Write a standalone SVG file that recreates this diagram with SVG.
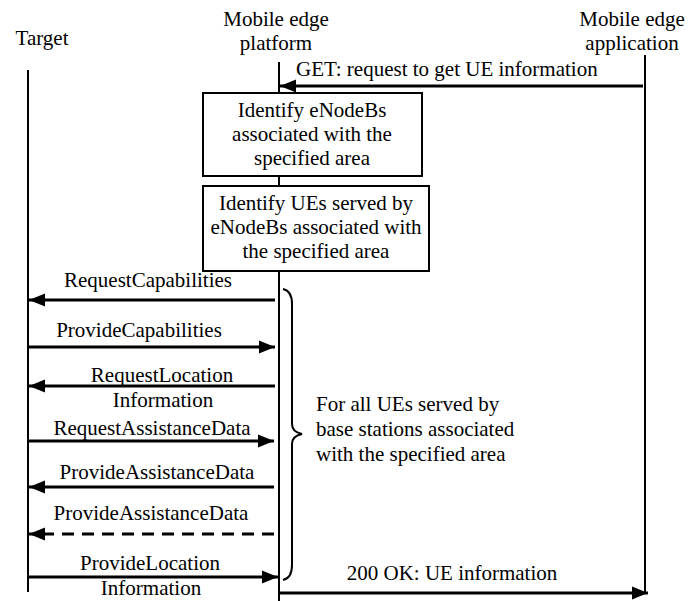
<svg xmlns="http://www.w3.org/2000/svg" width="699" height="601" viewBox="0 0 699 601">
  <defs>
    <marker id="head" markerUnits="userSpaceOnUse" markerWidth="17" markerHeight="14" refX="16" refY="7" orient="auto">
      <path d="M0,0.5 L16,7 L0,13.5 z" fill="#000"/>
    </marker>
  </defs>
  <rect width="699" height="601" fill="#fff"/>

  <!-- participants and lifelines -->
  <g id="target">
    <text x="42" y="45" text-anchor="middle" font-family="Liberation Serif" font-size="21">Target</text>
    <line x1="28" y1="70" x2="28" y2="592" stroke="#000" stroke-width="2"/>
  </g>
  <g id="platform">
    <text x="276" y="26" text-anchor="middle" font-family="Liberation Serif" font-size="21">Mobile edge</text>
    <text x="276" y="50" text-anchor="middle" font-family="Liberation Serif" font-size="21">platform</text>
    <line x1="279" y1="62" x2="279" y2="601" stroke="#000" stroke-width="2"/>
  </g>
  <g id="application">
    <text x="632" y="26" text-anchor="middle" font-family="Liberation Serif" font-size="21">Mobile edge</text>
    <text x="632" y="50" text-anchor="middle" font-family="Liberation Serif" font-size="21">application</text>
    <line x1="645" y1="55" x2="645" y2="593" stroke="#000" stroke-width="2"/>
  </g>

  <!-- processing steps on the platform -->
  <g id="identify-enodebs">
    <rect x="203" y="93" width="219" height="83" fill="#fff" stroke="#000" stroke-width="2"/>
    <text x="312" y="117" text-anchor="middle" font-family="Liberation Serif" font-size="21">Identify eNodeBs</text>
    <text x="312" y="141" text-anchor="middle" font-family="Liberation Serif" font-size="21">associated with the</text>
    <text x="312" y="165" text-anchor="middle" font-family="Liberation Serif" font-size="21">specified area</text>
  </g>
  <g id="identify-ues">
    <rect x="203" y="186" width="226" height="85" fill="#fff" stroke="#000" stroke-width="2"/>
    <text x="316" y="210" text-anchor="middle" font-family="Liberation Serif" font-size="21">Identify UEs served by</text>
    <text x="316" y="234" text-anchor="middle" font-family="Liberation Serif" font-size="21">eNodeBs associated with</text>
    <text x="316" y="258" text-anchor="middle" font-family="Liberation Serif" font-size="21">the specified area</text>
  </g>

  <!-- per-UE loop annotation -->
  <g id="loop-note">
    <path d="M283,289 Q292,291 292,304 L292,424 Q292,432 302,434 Q292,436 292,444 L292,565 Q292,578 283,580" fill="none" stroke="#000" stroke-width="2"/>
    <text x="316" y="411" font-family="Liberation Serif" font-size="21">For all UEs served by</text>
    <text x="316" y="436" font-family="Liberation Serif" font-size="21">base stations associated</text>
    <text x="316" y="461" font-family="Liberation Serif" font-size="21">with the specified area</text>
  </g>

  <!-- messages -->
  <g id="connectors">
    <g stroke="#000" stroke-width="3" fill="none" marker-end="url(#head)">
      <line x1="643" y1="86" x2="280" y2="86"/>
      <line x1="275" y1="300" x2="29" y2="300"/>
      <line x1="29" y1="347" x2="275" y2="347"/>
      <line x1="275" y1="386" x2="29" y2="386"/>
      <line x1="29" y1="441" x2="274" y2="441"/>
      <line x1="274" y1="487" x2="29" y2="487"/>
      <line x1="274" y1="534" x2="29" y2="534" stroke-dasharray="12 8"/>
      <line x1="29" y1="577" x2="278" y2="577"/>
      <line x1="280" y1="593" x2="648" y2="593"/>
    </g>
    <text x="296" y="76" font-family="Liberation Serif" font-size="21">GET: request to get UE information</text>
    <text x="148" y="287" text-anchor="middle" font-family="Liberation Serif" font-size="21">RequestCapabilities</text>
    <text x="139" y="337" text-anchor="middle" font-family="Liberation Serif" font-size="21">ProvideCapabilities</text>
    <text x="162" y="382" text-anchor="middle" font-family="Liberation Serif" font-size="21">RequestLocation</text>
    <text x="163" y="407" text-anchor="middle" font-family="Liberation Serif" font-size="21">Information</text>
    <text x="152" y="435" text-anchor="middle" font-family="Liberation Serif" font-size="21">RequestAssistanceData</text>
    <text x="157" y="479" text-anchor="middle" font-family="Liberation Serif" font-size="21">ProvideAssistanceData</text>
    <text x="151" y="520" text-anchor="middle" font-family="Liberation Serif" font-size="21">ProvideAssistanceData</text>
    <text x="150" y="570" text-anchor="middle" font-family="Liberation Serif" font-size="21">ProvideLocation</text>
    <text x="151" y="595" text-anchor="middle" font-family="Liberation Serif" font-size="21">Information</text>
    <text x="452" y="580" text-anchor="middle" font-family="Liberation Serif" font-size="21">200 OK: UE information</text>
  </g>
</svg>
